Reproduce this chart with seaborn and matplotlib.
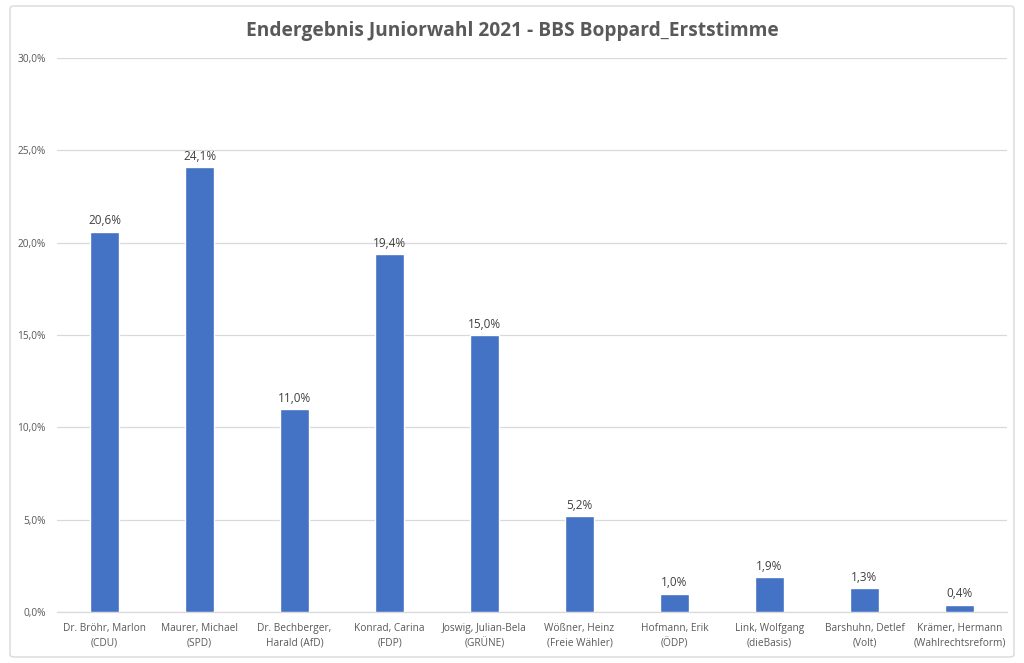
import matplotlib
matplotlib.use("Agg")
import matplotlib.pyplot as plt
import seaborn as sns
import pandas as pd
from matplotlib.patches import FancyBboxPatch
from matplotlib.ticker import FuncFormatter

candidates = [
    "Dr. Bröhr, Marlon\n(CDU)",
    "Maurer, Michael\n(SPD)",
    "Dr. Bechberger,\nHarald (AfD)",
    "Konrad, Carina\n(FDP)",
    "Joswig, Julian-Bela\n(GRÜNE)",
    "Wößner, Heinz\n(Freie Wähler)",
    "Hofmann, Erik\n(ÖDP)",
    "Link, Wolfgang\n(dieBasis)",
    "Barshuhn, Detlef\n(Volt)",
    "Krämer, Hermann\n(Wahlrechtsreform)",
]
shares = [20.6, 24.1, 11.0, 19.4, 15.0, 5.2, 1.0, 1.9, 1.3, 0.4]
yticks = [0, 5, 10, 15, 20, 25, 30]
title = "Endergebnis Juniorwahl 2021 - BBS Boppard_Erststimme"

sns.set_theme(style="white")
plt.rcParams['font.family'] = ['Open Sans', 'DejaVu Sans']

df = pd.DataFrame({"Kandidat": candidates, "Anteil": shares})

fig = plt.figure(figsize=(10.24, 6.63), dpi=100)
ax = fig.add_axes([0.0557, 0.0769, 0.9277, 0.8356])

gray_txt = "#595959"
grid_c = "#d9d9d9"

sns.barplot(data=df, x="Kandidat", y="Anteil", color="#4472C4", width=0.31,
            saturation=1, ax=ax, zorder=3)

ax.set_ylim(0, 30)
ax.set_xlim(-0.5, len(candidates) - 0.5)
ax.set_yticks(yticks)
ax.yaxis.set_major_formatter(FuncFormatter(lambda v, p: f"{v:.1f}%".replace(".", ",")))
ax.grid(axis="y", color=grid_c, linewidth=0.9, zorder=0)
ax.set_axisbelow(True)
for s in ["top", "right", "left"]:
    ax.spines[s].set_visible(False)
ax.spines["bottom"].set_color(grid_c)
ax.spines["bottom"].set_linewidth(0.9)
ax.set_xlabel("")
ax.set_ylabel("")
ax.tick_params(axis="y", length=0, labelsize=7.3, labelcolor=gray_txt, pad=8)
ax.tick_params(axis="x", length=0, labelsize=7.3, labelcolor=gray_txt, pad=8)
for lab in ax.get_xticklabels():
    lab.set_multialignment("center")
    lab.set_linespacing(1.45)

for c in ax.containers:
    ax.bar_label(c, labels=[f"{v:.1f}%".replace(".", ",") for v in shares],
                 padding=3, fontsize=8.5, color="#404040")

fig.text(0.5, 0.953, title, ha="center", va="center", fontsize=13.8,
         fontweight="bold", color=gray_txt)

border = FancyBboxPatch((10 / 1024, 6 / 663), 1004 / 1024, 651 / 663,
                        boxstyle="round,pad=0,rounding_size=0.004",
                        transform=fig.transFigure, fill=False,
                        edgecolor=grid_c, linewidth=1.0)
fig.patches.append(border)

fig.savefig("out.png", dpi=100)
